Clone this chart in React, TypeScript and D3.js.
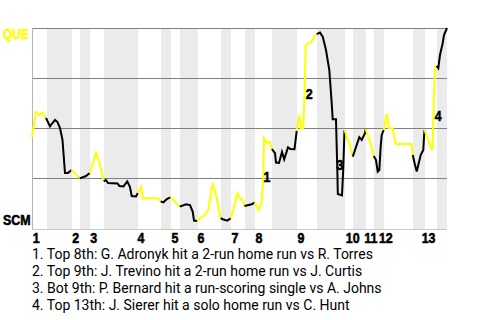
import React from 'react';
import * as d3 from 'd3';

const AWAY = 'QUE';
const HOME = 'SCM';

// game progress (0-100) and QUE win probability
const progress = [
  0, 0.96, 1.69, 2.53, 3.37,
  4.34, 4.94, 5.54, 6.14, 6.75, 7.35, 7.95, 8.67, 9.52,
  10.72, 11.5,
  13.01, 13.9,
  15.42, 16.27, 17.3,
  17.83, 18.31, 20.6, 21.08, 22.05, 22.96, 23.61, 24.02, 25.06, 25.5,
  26.27, 26.82, 27.23, 30.43, 31.0,
  31.64, 32.46, 33.37,
  33.66, 35.6,
  37.11, 38.07, 38.72, 39.04, 39.83,
  40.48, 41.69, 42.48, 43.54, 44.51, 45.47,
  45.95, 47.06, 47.88,
  48.51, 49.47, 50.12, 50.77, 51.2,
  52.94, 53.65,
  54.14, 54.63, 55.35, 55.73, 55.9, 56.55, 57.28, 57.8,
  58.55, 58.8, 59.52, 60.24, 60.77, 61.69, 62.29, 63.25, 63.78,
  64.41, 64.82, 65.37, 65.78, 65.95, 66.58, 67.16, 67.64, 67.95, 68.6,
  69.4, 70.05, 70.84, 71.64, 72.22, 72.46, 73.25, 73.57, 73.69, 74.7, 75.01, 75.3,
  76.46, 77.3,
  78.87, 79.45, 80.24, 80.4,
  81.45, 82.35,
  82.89, 83.3, 83.69, 84.02, 84.27, 84.75,
  85.06, 85.47, 86.02, 86.92, 87.64, 91.49, 91.75,
  92.29, 92.7, 93.08, 93.66, 94.29, 94.46, 94.58,
  95.9, 96.46, 96.7, 96.87, 97.18, 97.52,
  97.9, 98.31, 98.96, 99.28, 100,
];
const winProb = [
  0.455, 0.58, 0.565, 0.575, 0.55,
  0.508, 0.525, 0.54, 0.53, 0.5, 0.44, 0.275, 0.275, 0.29,
  0.265, 0.248,
  0.26, 0.275,
  0.375, 0.325, 0.233,
  0.24, 0.225, 0.223, 0.21, 0.208, 0.233, 0.205, 0.16, 0.158, 0.175,
  0.205, 0.143, 0.149, 0.149, 0.133,
  0.128, 0.144, 0.153,
  0.149, 0.107,
  0.119, 0.115, 0.082, 0.037, 0.035,
  0.049, 0.065, 0.09, 0.224, 0.149, 0.049,
  0.044, 0.037, 0.049,
  0.09, 0.174, 0.149, 0.14, 0.11,
  0.119, 0.127,
  0.11, 0.09, 0.133, 0.25, 0.449, 0.424, 0.432, 0.395,
  0.374, 0.327, 0.325, 0.38, 0.343, 0.403, 0.395, 0.394, 0.485,
  0.565, 0.499, 0.499, 0.74, 0.915, 0.924, 0.927, 0.94, 0.957, 0.969,
  0.977, 0.957, 0.89, 0.79, 0.624, 0.544, 0.544, 0.29, 0.17, 0.163, 0.3, 0.49,
  0.424, 0.357,
  0.454, 0.44, 0.474, 0.494,
  0.432, 0.36,
  0.34, 0.282, 0.29, 0.407, 0.465, 0.49,
  0.524, 0.57, 0.499, 0.499, 0.42, 0.42, 0.365,
  0.315, 0.282, 0.315, 0.365, 0.39, 0.454, 0.49,
  0.415, 0.39, 0.532, 0.665, 0.807, 0.81,
  0.799, 0.865, 0.924, 0.965, 1.0,
];

// start of each half inning (top, bottom, top, bottom, ...)
const halfInningStarts = [
  0, 3.61, 9.64, 11.57, 13.98, 17.35, 25.54, 31.08, 33.49, 35.66,
  40.0, 45.54, 47.95, 51.33, 53.73, 57.83, 63.86, 68.67, 75.42, 77.35,
  80.48, 82.41, 84.82, 91.81, 94.7, 97.59,
];
const progressEnd = 100;

const inningLabels = ['1', '2', '3', '4', '5', '6', '7', '8', '9', '10', '11', '12', '13'];
const inningLabelPos = [0.2, 9.7, 14.05, 25.45, 33.6, 39.9, 48.1, 53.85, 64.0, 75.6, 80.05, 83.6, 93.9];

const gridValues = [0.25, 0.5, 0.75, 1];

const noteNumbers = ['1', '2', '3', '4'];
const noteProgress = [55.8, 65.95, 73.35, 97.05];
const noteProb = [0.23, 0.645, 0.29, 0.535];
const noteTexts = [
  '1. Top 8th: G. Adronyk hit a 2-run home run vs R. Torres',
  '2. Top 9th: J. Trevino hit a 2-run home run vs J. Curtis',
  '3. Bot 9th: P. Bernard hit a run-scoring single vs A. Johns',
  '4. Top 13th: J. Sierer hit a solo home run vs C. Hunt',
];

const YELLOW = '#ffff00';
const BOLD_FONT = "'Liberation Sans', Arial, sans-serif";
const BOLD_SIZE = 15.5;

type NarrowProps = { x: number; y: number; sx: number; fill: string; children: React.ReactNode };
function Narrow({ x, y, sx, fill, children }: NarrowProps) {
  return (
    <g transform={`translate(${x},${y}) scale(${sx},1)`}>
      <text
        x={0}
        y={0}
        fill={fill}
        stroke={fill}
        strokeWidth={0.6}
        style={{ fontFamily: BOLD_FONT, fontWeight: 700, fontSize: BOLD_SIZE }}
      >
        {children}
      </text>
    </g>
  );
}

export default function App() {
  const W = 480;
  const H = 320;
  const x = d3.scaleLinear().domain([0, progressEnd]).range([32, 447]);
  const y = d3.scaleLinear().domain([0, 1]).range([228, 28]);

  const points = progress.map((t, i) => ({ t, p: winProb[i] }));
  const line = d3
    .line<{ t: number; p: number }>()
    .x((d) => x(d.t))
    .y((d) => y(d.p));

  const halves = halfInningStarts.map((s, i) => ({
    s,
    e: i + 1 < halfInningStarts.length ? halfInningStarts[i + 1] : progressEnd,
    top: i % 2 === 0,
  }));

  const segments = halves.map((h) => {
    const inside = points.filter((d) => d.t >= h.s && d.t < h.e + (h.e === progressEnd ? 1 : 0));
    const before = points.filter((d) => d.t < h.s);
    const seg = before.length ? [before[before.length - 1], ...inside] : inside;
    return { seg, top: h.top };
  });

  return (
    <svg
      width={W}
      height={H}
      style={{ position: 'absolute', left: 0, top: 0, background: '#fff' }}
    >
      {halves
        .filter((h) => !h.top)
        .map((h, i) => (
          <rect
            key={'b' + i}
            x={x(h.s)}
            y={y(1)}
            width={x(h.e) - x(h.s)}
            height={y(0) - y(1) + 1}
            fill="#ebebeb"
          />
        ))}
      {gridValues.map((g) => (
        <line
          key={'g' + g}
          x1={x(0)}
          x2={x(progressEnd)}
          y1={Math.round(y(g)) + 0.5}
          y2={Math.round(y(g)) + 0.5}
          stroke="#808080"
          strokeWidth={1}
        />
      ))}
      <line x1={x(0) + 0.5} x2={x(0) + 0.5} y1={y(1)} y2={y(0) + 2} stroke="#b4b4b4" strokeWidth={1} />
      <line x1={x(0)} x2={x(progressEnd)} y1={y(0) + 1.5} y2={y(0) + 1.5} stroke="#c8c8c8" strokeWidth={1} />

      {segments.map((s, i) => (
        <path
          key={'s' + i}
          d={line(s.seg) || ''}
          fill="none"
          stroke={s.top ? YELLOW : '#000'}
          strokeWidth={2}
        />
      ))}

      <Narrow x={3} y={y(1) + 10.5} sx={0.76} fill={YELLOW}>
        {AWAY}
      </Narrow>
      <Narrow x={3} y={y(0) - 3} sx={0.8} fill="#000">
        {HOME}
      </Narrow>

      {inningLabels.map((l, i) => (
        <Narrow key={'i' + l} x={x(inningLabelPos[i])} y={242.5} sx={0.8} fill="#000">
          {l}
        </Narrow>
      ))}

      {noteNumbers.map((n, i) => (
        <Narrow key={'n' + n} x={x(noteProgress[i])} y={y(noteProb[i])} sx={0.8} fill="#000">
          {n}
        </Narrow>
      ))}

      {noteTexts.map((t, i) => (
        <text key={'t' + i} x={32} y={259 + i * 17} fontFamily="Roboto" fontSize={14} fill="#000">
          {t}
        </text>
      ))}
    </svg>
  );
}
